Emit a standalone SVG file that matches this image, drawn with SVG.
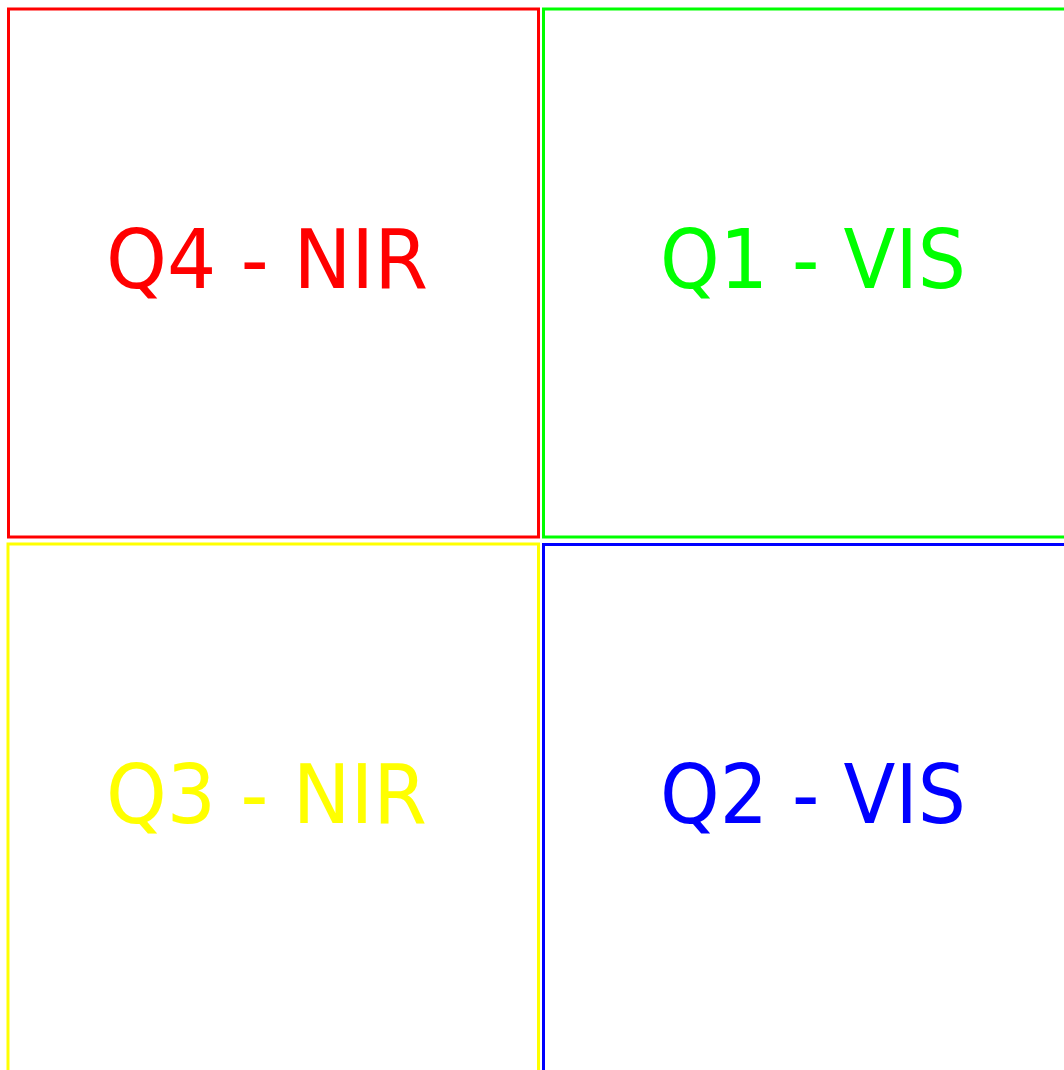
<svg xmlns="http://www.w3.org/2000/svg" width="1064" height="1070" viewBox="0 0 1064 1070">
<style>
.box{fill:none;stroke-width:3}
.lbl{font-family:"DejaVu Sans","Liberation Sans",sans-serif;font-size:82px}
</style>
<rect width="1064" height="1070" fill="#ffffff"/>
<g id="q4">
<rect class="box" x="8.5" y="9" width="530" height="528" stroke="#ff0000"/>
<text class="lbl" x="106" y="288" fill="#ff0000" textLength="322" lengthAdjust="spacingAndGlyphs">Q4 - NIR</text>
</g>
<g id="q1">
<rect class="box" x="543.5" y="9" width="540" height="528" stroke="#00ff00"/>
<text class="lbl" x="660" y="288" fill="#00ff00" textLength="306" lengthAdjust="spacingAndGlyphs">Q1 - VIS</text>
</g>
<g id="q3">
<rect class="box" x="8" y="544" width="530.5" height="540" stroke="#ffff00"/>
<text class="lbl" x="106" y="823" fill="#ffff00" textLength="321" lengthAdjust="spacingAndGlyphs">Q3 - NIR</text>
</g>
<g id="q2">
<rect class="box" x="543.5" y="544.5" width="540" height="540" stroke="#0000ff"/>
<text class="lbl" x="660" y="823" fill="#0000ff" textLength="306" lengthAdjust="spacingAndGlyphs">Q2 - VIS</text>
</g>
<g id="connectors"/>
</svg>
